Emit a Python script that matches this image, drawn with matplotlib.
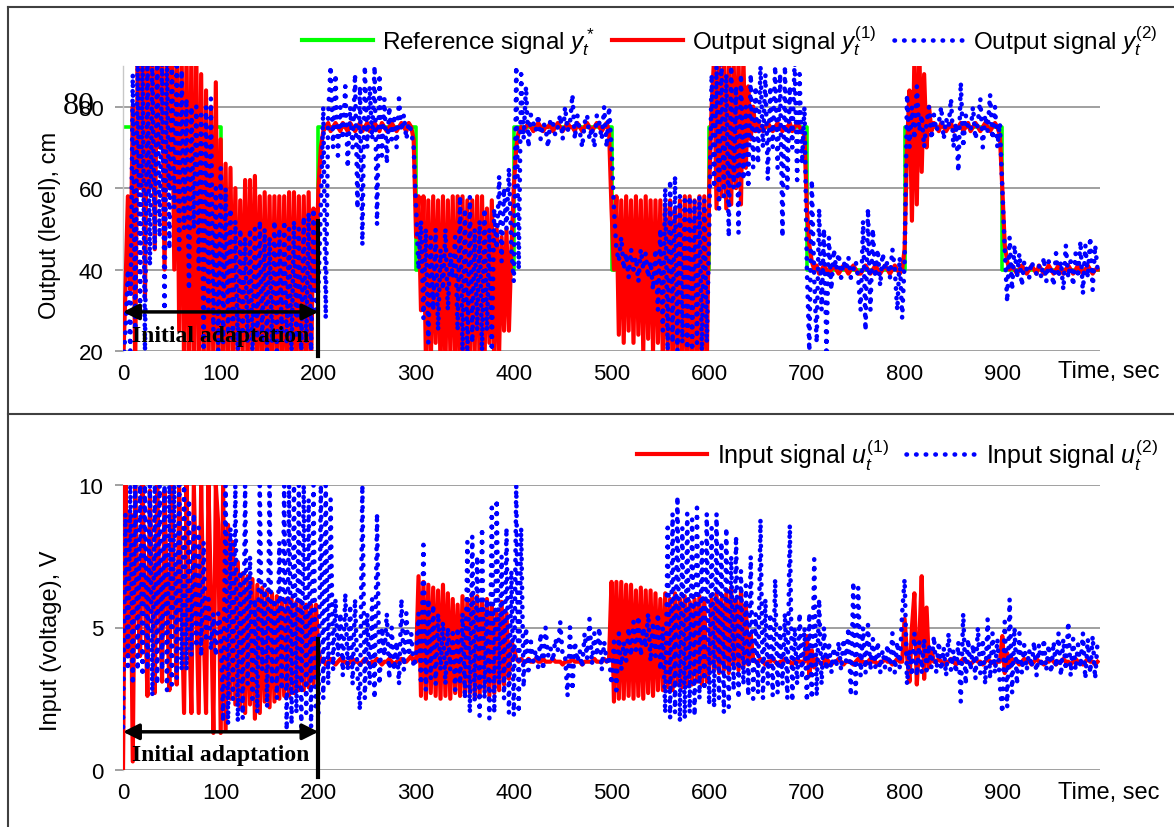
import numpy as np
import matplotlib
matplotlib.use('Agg')
import matplotlib.pyplot as plt
from matplotlib.lines import Line2D

plt.rcParams['font.family'] = ['Liberation Sans', 'DejaVu Sans']
plt.rcParams['mathtext.fontset'] = 'custom'
plt.rcParams['mathtext.rm'] = 'Liberation Sans'
plt.rcParams['mathtext.it'] = 'Liberation Sans:italic'

# ===== Data (one sample every 2.5 s, one row per 100 s) =====
STEP = 2.5

ref_start = [0, 100, 200, 300, 400, 500, 600, 700, 800, 900, 1000]
ref_level = [75, 40, 75, 40, 75, 40, 75, 40, 75, 40, 40]

# output y(1), cm
y1 = [
    15, 35, 58, 35, 80, 15, 92, 60, 95, 33, 95, 60, 95, 45, 95, 70, 95, 40, 95, 60,
    95, 40, 95, 25, 95, 15, 95, 15, 95, 15, 95, 15, 88, 15, 84, 15, 80, 15, 86, 15,
    72, 15, 66, 15, 65, 18, 60, 15, 57, 20, 62, 15, 62, 18, 63, 15, 58, 16, 59, 15,
    58, 15, 58, 17, 58, 15, 58, 15, 59, 16, 59, 15, 58, 15, 58, 16, 59, 15, 55, 35,
    60, 70, 74, 75, 76, 74, 75, 76, 75, 74, 76, 75, 74, 76, 75, 74, 75, 76, 74, 75,
    76, 74, 75, 76, 75, 74, 76, 75, 74, 75, 76, 75, 74, 75, 76, 75, 74, 76, 75, 72,
    48, 58, 30, 58, 18, 57, 15, 58, 22, 57, 15, 58, 15, 57, 20, 58, 15, 58, 15, 58,
    18, 57, 15, 57, 20, 58, 15, 58, 16, 55, 22, 57, 15, 50, 20, 48, 25, 50, 25, 45,
    60, 70, 74, 75, 74, 75, 76, 75, 74, 75, 76, 75, 74, 75, 75, 76, 74, 75, 76, 75,
    74, 75, 76, 75, 75, 74, 76, 75, 74, 75, 76, 75, 74, 75, 76, 75, 74, 75, 76, 74,
    55, 40, 58, 24, 57, 22, 58, 25, 57, 22, 58, 24, 57, 20, 58, 23, 57, 20, 57, 22,
    57, 18, 56, 20, 57, 15, 55, 18, 57, 15, 58, 15, 58, 15, 57, 15, 58, 15, 58, 15,
    60, 80, 92, 55, 92, 58, 92, 55, 92, 56, 92, 60, 92, 56, 92, 65, 85, 72, 80, 74,
    76, 75, 74, 75, 76, 75, 74, 75, 76, 75, 74, 75, 75, 76, 74, 75, 76, 75, 74, 73,
    55, 46, 42, 40, 41, 39, 40, 41, 40, 39, 40, 41, 40, 39, 40, 41, 40, 39, 40, 41,
    40, 39, 39, 40, 41, 40, 39, 40, 41, 40, 39, 40, 41, 40, 39, 40, 41, 40, 39, 40,
    45, 70, 84, 52, 92, 56, 95, 64, 88, 70, 80, 74, 76, 75, 74, 76, 75, 74, 75, 76,
    74, 75, 75, 76, 74, 75, 76, 74, 75, 76, 75, 74, 75, 76, 75, 74, 75, 76, 75, 73,
    60, 46, 42, 40, 41, 40, 39, 40, 41, 40, 39, 40, 41, 40, 39, 41, 40, 39, 40, 41,
    40, 39, 40, 41, 40, 39, 40, 41, 40, 39, 40, 41, 40, 39, 40, 41, 40, 39, 40, 40,
]

# output y(2), cm
y2 = [
    15, 25, 40, 20, 88, 25, 92, 30, 92, 20, 92, 41, 92, 45, 92, 48, 92, 30, 92, 45,
    92, 55, 90, 45, 89, 50, 82, 35, 80, 50, 80, 40, 78, 20, 80, 30, 82, 25, 60, 20,
    65, 22, 60, 24, 55, 22, 52, 20, 50, 25, 48, 22, 50, 20, 50, 23, 52, 22, 50, 20,
    48, 22, 52, 20, 50, 24, 52, 22, 50, 20, 52, 23, 50, 20, 53, 22, 54, 20, 55, 30,
    35, 55, 80, 28, 78, 90, 70, 88, 68, 80, 72, 85, 65, 80, 70, 88, 55, 85, 46, 90,
    70, 85, 72, 90, 51, 88, 68, 82, 66, 80, 72, 78, 70, 82, 74, 78, 72, 76, 74, 70,
    55, 40, 52, 28, 50, 22, 48, 30, 50, 25, 45, 35, 50, 30, 44, 38, 48, 25, 58, 20,
    55, 18, 58, 22, 50, 25, 52, 20, 55, 25, 50, 20, 55, 45, 63, 42, 60, 50, 65, 45,
    37, 90, 40, 88, 72, 85, 70, 78, 76, 74, 78, 72, 76, 75, 70, 77, 76, 73, 75, 78,
    72, 80, 74, 76, 83, 72, 78, 74, 70, 76, 78, 72, 75, 70, 78, 76, 72, 80, 70, 80,
    70, 55, 45, 42, 48, 40, 44, 38, 45, 40, 43, 37, 45, 40, 44, 38, 42, 35, 45, 30,
    50, 25, 60, 20, 62, 22, 63, 20, 58, 22, 57, 18, 58, 20, 57, 22, 58, 20, 57, 22,
    50, 88, 60, 90, 55, 92, 58, 88, 48, 90, 60, 85, 49, 88, 62, 80, 60, 88, 65, 85,
    66, 90, 70, 88, 62, 85, 70, 90, 65, 88, 48, 90, 60, 85, 70, 92, 62, 88, 66, 80,
    40, 20, 62, 38, 22, 55, 30, 50, 20, 48, 35, 45, 40, 44, 38, 42, 40, 43, 38, 40,
    42, 38, 30, 52, 25, 55, 30, 50, 38, 45, 36, 44, 40, 42, 38, 45, 40, 30, 43, 28,
    42, 83, 70, 80, 72, 85, 74, 78, 70, 76, 80, 72, 78, 74, 76, 80, 72, 77, 75, 82,
    70, 76, 64, 86, 70, 78, 75, 74, 80, 72, 76, 82, 70, 78, 74, 83, 72, 80, 70, 76,
    60, 45, 32, 48, 35, 46, 38, 44, 36, 42, 40, 38, 42, 40, 39, 41, 38, 43, 37, 42,
    40, 36, 44, 38, 42, 35, 46, 38, 42, 36, 44, 38, 47, 34, 46, 38, 48, 35, 46, 40,
]

# input u(1), V
u1 = [
    0, 10, 4, 9, 0.3, 10, 6, 4.0, 10, 6, 2.6, 9.8, 6.5, 2.7, 10, 6, 3.1, 9.8, 6, 2.8,
    10, 6, 3.0, 10, 6, 2.0, 10, 5.5, 2.0, 10, 6, 2.0, 10, 5, 2.0, 10, 6, 1.3, 10, 8.6,
    1.3, 10, 1.4, 8.6, 2.5, 8.0, 2.3, 7.3, 2.2, 6.9, 2.0, 6.8, 2.3, 6.7, 1.8, 6.5, 2.0, 6.4, 2.4, 6.3,
    2.2, 6.2, 2.4, 6.1, 2.5, 6.0, 2.6, 6.0, 2.6, 6.0, 2.7, 5.9, 2.8, 5.9, 2.8, 5.8, 2.9, 5.8, 3.0, 5.8,
    4.2, 3.8, 3.9, 3.7, 3.8, 3.9, 3.8, 3.7, 3.8, 3.9, 3.8, 3.8, 3.7, 3.8, 3.9, 3.8, 3.8, 3.7, 3.8, 3.9,
    3.8, 3.7, 3.8, 3.8, 3.9, 3.8, 3.7, 3.8, 3.8, 3.9, 3.8, 3.7, 3.8, 3.8, 3.9, 3.8, 3.8, 3.9, 4.0, 3.8,
    3.8, 6.8, 2.6, 6.6, 2.5, 6.5, 2.7, 6.4, 2.6, 6.3, 2.5, 6.5, 2.6, 6.2, 2.5, 6.0, 2.7, 5.8, 2.6, 6.1,
    2.6, 6.0, 2.7, 6.2, 2.5, 6.1, 2.6, 5.9, 2.8, 6.0, 2.6, 5.8, 2.7, 5.5, 2.8, 5.9, 3.0, 5.5, 3.2, 4.5,
    4.3, 3.9, 3.8, 3.9, 3.8, 3.8, 3.9, 3.8, 3.8, 3.9, 3.8, 3.8, 3.9, 3.8, 3.8, 3.8, 3.9, 3.8, 3.8, 3.8,
    3.7, 3.8, 3.8, 3.8, 3.9, 3.8, 3.8, 3.8, 3.7, 3.8, 3.8, 3.8, 3.8, 3.9, 3.8, 3.8, 3.8, 3.9, 3.8, 3.9,
    6.6, 2.4, 6.6, 2.5, 6.6, 2.5, 6.5, 2.6, 6.5, 2.5, 6.3, 2.6, 6.4, 2.5, 6.3, 2.7, 6.3, 2.6, 6.2, 2.8,
    6.0, 2.8, 6.2, 2.9, 6.0, 2.8, 6.2, 3.0, 6.0, 2.9, 6.1, 3.0, 5.9, 3.0, 6.0, 3.1, 6.1, 3.0, 6.0, 3.1,
    3.5, 6.0, 3.5, 6.2, 3.4, 6.0, 3.5, 6.2, 3.4, 6.4, 3.6, 6.0, 3.5, 6.3, 3.6, 5.8, 3.7, 4.8, 3.9, 3.8,
    3.8, 3.9, 3.8, 3.7, 3.8, 3.8, 3.9, 3.8, 3.7, 3.8, 3.8, 3.9, 3.8, 3.8, 3.7, 3.8, 3.9, 3.8, 3.8, 3.8,
    4.7, 3.3, 4.2, 3.6, 3.9, 3.8, 3.7, 3.8, 3.9, 3.8, 3.7, 3.8, 3.8, 3.9, 3.8, 3.7, 3.8, 3.8, 3.8, 3.7,
    3.8, 3.9, 3.8, 3.8, 3.7, 3.8, 3.9, 3.8, 3.8, 3.7, 3.8, 3.8, 3.9, 3.8, 3.8, 3.7, 3.8, 3.9, 3.8, 3.8,
    5.3, 4.0, 3.1, 5.0, 6.2, 3.0, 4.5, 6.8, 3.2, 5.7, 3.6, 4.2, 3.8, 3.8, 3.9, 3.8, 3.7, 3.8, 3.8, 3.9,
    3.8, 3.7, 3.8, 3.8, 3.9, 3.8, 3.8, 3.7, 3.8, 3.9, 3.8, 3.8, 3.7, 3.8, 3.9, 3.8, 3.8, 3.7, 3.8, 3.8,
    4.7, 3.4, 4.1, 3.6, 3.9, 3.8, 3.8, 3.7, 3.8, 3.9, 3.8, 3.8, 3.7, 3.8, 3.9, 3.8, 3.8, 3.7, 3.8, 3.8,
    3.9, 3.8, 3.7, 3.8, 3.8, 3.9, 3.8, 3.8, 3.7, 3.8, 3.9, 3.8, 3.8, 3.7, 3.8, 3.9, 3.8, 3.8, 3.7, 3.8,
]

# input u(2), V
u2 = [
    1.5, 9, 3.5, 10, 3.0, 10, 3.5, 10, 3.3, 10, 3.5, 10, 2.6, 10, 3.0, 10, 3.5, 10, 2.8, 10,
    3.0, 10, 3.2, 10, 3.5, 10, 3.5, 9.5, 4.0, 9.0, 4.3, 8.5, 4.0, 8.0, 4.5, 6.0, 4.2, 5.5, 4.0, 5.5,
    5.0, 1.7, 10, 1.6, 8.5, 2.5, 10, 1.7, 7, 1.8, 10, 3.0, 7.5, 2.5, 6.0, 2.0, 10, 3.5, 6.5, 2.2,
    10, 3.0, 6.0, 2.5, 8.0, 2.8, 10, 1.4, 10, 1.6, 10, 2.0, 10, 1.5, 10, 2.0, 9.5, 1.5, 10, 2.0,
    2.0, 10, 2.5, 10, 3.0, 9.5, 3.5, 6.0, 4.0, 5.5, 3.3, 6.2, 3.5, 5.8, 3.0, 6.0, 3.3, 2.1, 10, 2.5,
    5.5, 3.0, 6.0, 2.5, 9.0, 3.0, 5.0, 4.0, 5.5, 3.2, 5.0, 3.5, 4.5, 3.0, 6.0, 3.5, 5.5, 4.0, 4.8, 3.6,
    4.0, 5.5, 3.0, 7.9, 2.8, 6.0, 3.2, 5.8, 3.0, 5.5, 3.5, 5.2, 3.0, 5.0, 3.5, 4.8, 2.8, 5.0, 3.0, 5.5,
    2.5, 8.0, 2.0, 8.2, 2.4, 7.5, 1.9, 8.5, 2.5, 6.0, 1.8, 9.2, 2.0, 9.5, 3.0, 7.5, 2.5, 8.5, 2.0, 7.0,
    1.9, 10, 2.0, 8.5, 2.9, 5.0, 3.5, 4.5, 3.8, 4.2, 3.6, 4.8, 3.5, 5.0, 4.0, 4.3, 3.8, 4.6, 4.2, 5.2,
    4.0, 4.0, 2.6, 5.0, 2.8, 4.5, 3.8, 4.2, 3.6, 4.8, 3.9, 5.3, 3.7, 4.8, 4.0, 5.0, 3.5, 4.5, 3.8, 4.0,
    3.0, 4.5, 2.8, 4.8, 3.5, 4.5, 3.8, 5.0, 4.0, 5.2, 4.2, 5.4, 4.0, 5.0, 4.3, 5.5, 3.8, 5.2, 4.0, 5.5,
    3.5, 5.0, 2.0, 8.5, 1.8, 9.0, 2.0, 9.6, 1.7, 8.5, 1.8, 9.0, 2.0, 8.8, 1.9, 9.2, 2.5, 8.0, 2.8, 9.0,
    2.3, 8.5, 2.2, 9.0, 2.5, 8.0, 2.0, 8.5, 2.2, 7.5, 2.8, 8.2, 2.5, 7.0, 3.0, 6.5, 2.6, 7.5, 2.5, 5.5,
    2.7, 8.8, 2.5, 6.0, 3.0, 5.5, 2.6, 6.7, 2.7, 5.0, 3.0, 5.5, 2.5, 8.6, 2.4, 5.0, 3.0, 5.5, 3.2, 5.0,
    2.4, 5.5, 2.5, 7.4, 2.6, 6.0, 3.0, 5.0, 3.5, 4.5, 3.4, 4.3, 3.6, 4.5, 3.5, 4.6, 3.8, 5.0, 2.6, 6.6,
    2.7, 6.4, 3.3, 5.0, 3.4, 5.1, 3.5, 4.6, 3.6, 4.5, 3.4, 4.2, 3.6, 4.4, 3.5, 4.8, 3.4, 4.5, 3.6, 5.5,
    6.7, 3.0, 4.2, 3.3, 4.8, 3.3, 4.5, 3.4, 4.6, 3.5, 4.4, 3.6, 4.7, 3.4, 4.5, 3.5, 4.3, 3.3, 4.8, 3.5,
    4.2, 3.4, 4.5, 2.4, 5.5, 3.0, 4.6, 3.5, 4.4, 3.2, 5.0, 3.4, 4.6, 3.0, 5.3, 3.2, 4.8, 3.4, 4.6, 3.0,
    2.0, 5.2, 2.2, 6.0, 2.7, 5.0, 3.0, 4.8, 3.4, 4.4, 3.5, 4.2, 3.6, 4.5, 3.3, 4.4, 3.6, 4.6, 3.5, 4.4,
    3.4, 4.5, 3.6, 4.8, 3.3, 4.6, 3.5, 5.2, 3.3, 4.6, 3.5, 4.4, 3.6, 4.8, 3.2, 4.6, 3.4, 4.7, 3.2, 4.5,
]

t = STEP * np.arange(len(y1))

# ===== Styles =====
GREEN = '#00ff00'
RED = '#ff0000'
BLUE = '#0000ff'
GRID = '#a0a0a0'
DOTS = (0, (0.1, 2.0))
W, H = 1174, 828

fig = plt.figure(figsize=(W / 100, H / 100), dpi=100)
ax1 = fig.add_axes([123 / W, 1 - 352 / H, 977 / W, 285 / H])
ax2 = fig.add_axes([123 / W, 1 - 771 / H, 977 / W, 285 / H])


def style_axis(ax, ylim, yticks):
    ax.set_xlim(0, 1000)
    ax.set_ylim(*ylim)
    ax.set_yticks(yticks)
    ax.set_xticks([0, 100, 200, 300, 400, 500, 600, 700, 800, 900])
    ax.yaxis.grid(True, color=GRID, lw=1.4, zorder=0)
    for s in ['top', 'right', 'bottom']:
        ax.spines[s].set_visible(False)
    ax.spines['left'].set_color('#c8c8c8')
    ax.spines['left'].set_linewidth(1.0)
    ax.tick_params(axis='y', length=6, width=1.4, color=GRID, pad=8, labelsize=16)
    ax.tick_params(axis='x', length=0, pad=9, labelsize=16)
    ax.set_axisbelow(True)


# ===== Top panel: outputs =====
style_axis(ax1, (20, 90), [20, 40, 60, 80])
ax1.plot(ref_start, ref_level, drawstyle='steps-post', color=GREEN, lw=2.6, zorder=2)
ax1.plot(t, y1, color=RED, lw=3.0, zorder=3)
ax1.plot(t, y2, color=BLUE, lw=3.3, ls=DOTS, dash_capstyle='round', zorder=4)

ax1.annotate('', xy=(0, 29.6), xytext=(200, 29.6),
             arrowprops=dict(arrowstyle='<|-|>', color='black', lw=2.5, mutation_scale=24,
                             shrinkA=0, shrinkB=0), zorder=6)
ax1.plot([200, 200], [51.9, 18.8], color='black', lw=3, clip_on=False, zorder=6)
ax1.text(100, 23.9, 'Initial adaptation', ha='center', va='center', fontsize=17,
         family='Liberation Serif', fontweight='bold', zorder=7)

# ===== Bottom panel: inputs =====
style_axis(ax2, (0, 10), [0, 5, 10])
ax2.plot(t, u1, color=RED, lw=3.0, zorder=3)
ax2.plot(t, u2, color=BLUE, lw=3.3, ls=DOTS, dash_capstyle='round', zorder=4)

ax2.annotate('', xy=(0, 1.34), xytext=(200, 1.34),
             arrowprops=dict(arrowstyle='<|-|>', color='black', lw=2.5, mutation_scale=24,
                             shrinkA=0, shrinkB=0), zorder=6)
ax2.plot([200, 200], [4.6, -0.25], color='black', lw=3, clip_on=False, zorder=6)
ax2.text(100, 0.56, 'Initial adaptation', ha='center', va='center', fontsize=17,
         family='Liberation Serif', fontweight='bold', zorder=7)

# ===== Labels =====
fig.text(50 / W, 1 - 225 / H, 'Output (level), cm', rotation=90, ha='center', va='center', fontsize=17)
fig.text(51 / W, 1 - 641 / H, 'Input (voltage), V', rotation=90, ha='center', va='center', fontsize=17)
fig.text(1058 / W, 1 - 372 / H, 'Time, sec', ha='left', va='center', fontsize=17)
fig.text(1058 / W, 1 - 793 / H, 'Time, sec', ha='left', va='center', fontsize=17)
# stray serif "80" overprinted on the top tick label, as in the original
fig.text(63 / W, 1 - 107 / H, '80', ha='left', va='center', fontsize=23, family='Liberation Serif')

# ===== Legends =====
top_handles = [
    Line2D([], [], color=GREEN, lw=3),
    Line2D([], [], color=RED, lw=3),
    Line2D([], [], color=BLUE, lw=3.3, ls=DOTS, dash_capstyle='round'),
]
top_labels = ['Reference signal $y_t^*$', 'Output signal $y_t^{(1)}$', 'Output signal $y_t^{(2)}$']
fig.legend(top_handles, top_labels, loc='center right', bbox_to_anchor=(1158 / W, 1 - 41 / H),
           ncol=3, frameon=False, fontsize=17.5, handlelength=2.9, handletextpad=0.38,
           columnspacing=0.7, borderaxespad=0, borderpad=0)

bot_handles = [
    Line2D([], [], color=RED, lw=3),
    Line2D([], [], color=BLUE, lw=3.3, ls=DOTS, dash_capstyle='round'),
]
bot_labels = ['Input signal $u_t^{(1)}$', 'Input signal $u_t^{(2)}$']
fig.legend(bot_handles, bot_labels, loc='center right', bbox_to_anchor=(1158 / W, 1 - 455 / H),
           ncol=2, frameon=False, fontsize=18, handlelength=2.8, handletextpad=0.4,
           columnspacing=0.65, borderaxespad=0, borderpad=0)

# ===== Outer frame =====
FRAME = '#404040'
fig.add_artist(Line2D([8 / W, 8 / W], [0, 1 - 8 / H], color=FRAME, lw=1.5))
fig.add_artist(Line2D([8 / W, 1], [1 - 8 / H, 1 - 8 / H], color=FRAME, lw=1.5))
fig.add_artist(Line2D([8 / W, 1], [1 - 415 / H, 1 - 415 / H], color=FRAME, lw=1.5))

fig.savefig('out.png', dpi=100, facecolor='white')
